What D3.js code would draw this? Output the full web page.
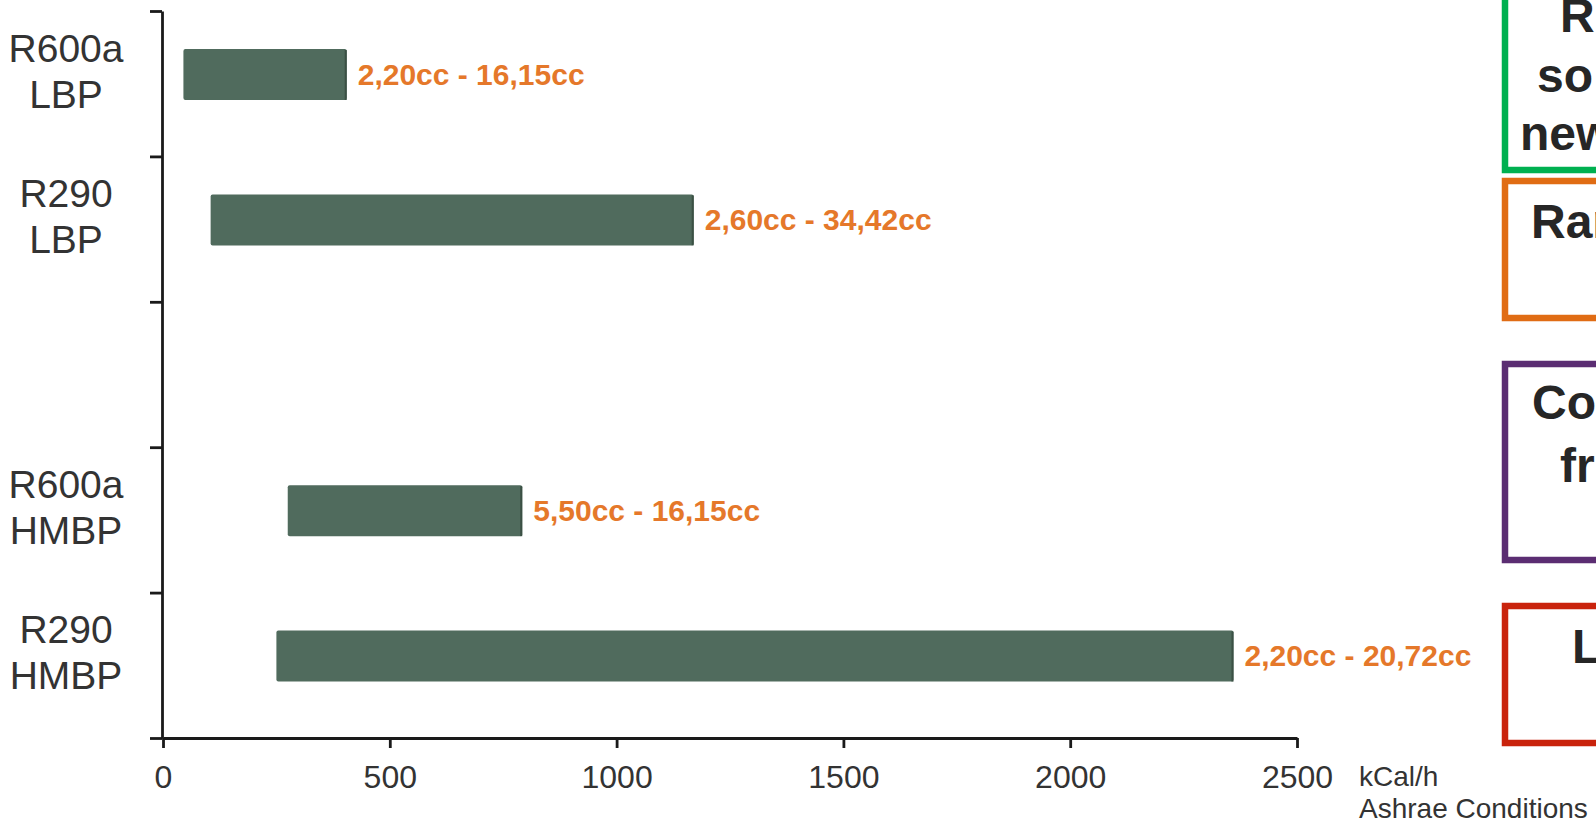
<html>
<head>
<script src="https://d3js.org/d3.v7.min.js"></script>
<style>
  body { margin: 0; background: #fff; }
  text { font-family: "Liberation Sans", Arial, Helvetica, sans-serif; }
</style>
</head>
<body>
<svg id="chart" width="1596" height="823"></svg>
<script>
// Data
const categories = ["R600a LBP", "R290 LBP", "R600a HMBP", "R290 HMBP"];
const refrigerants = ["R600a", "R290", "R600a", "R290"];
const platforms = ["LBP", "LBP", "HMBP", "HMBP"];
const capacityMin = [45, 105, 275, 250];      // kCal/h
const capacityMax = [405, 1170, 792, 2360];   // kCal/h
const displacements = ["2,20cc - 16,15cc", "2,60cc - 34,42cc", "5,50cc - 16,15cc", "2,20cc - 20,72cc"];
const slots = ["R600a LBP", "R290 LBP", "gap", "R600a HMBP", "R290 HMBP"];
const xTicks = [0, 500, 1000, 1500, 2000, 2500];
const unitLines = ["kCal/h", "Ashrae Conditions"];

// side boxes (partly cut off at the right edge)
const boxColors = ["#00b050", "#e06c14", "#5b2d72", "#c9230c"];
const boxTexts = [["R", "so", "new"], ["Ran"], ["Co", "fr"], ["L"]];

const svg = d3.select("#chart");
svg.append("rect").attr("width", 1596).attr("height", 823).attr("fill", "#fff");

// Scales
const x = d3.scaleLinear().domain([0, 2500]).range([163, 1297]);
const y = d3.scaleBand().domain(slots).range([11, 738]).padding(0);
const yEdge = d3.scaleLinear().domain([0, slots.length]).range([11, 738]);

const barH = 51, barOff = 38;

// Y axis: ticks on band edges
const yAxis = svg.append("g")
  .attr("transform", "translate(162,0)")
  .call(d3.axisLeft(yEdge).tickValues(d3.range(slots.length + 1)).tickSize(12).tickSizeOuter(0).tickFormat(""));
yAxis.selectAll("path, line").attr("stroke", "#1a1a1a").attr("stroke-width", 2.8);

// X axis
const xAxis = svg.append("g")
  .attr("transform", "translate(0,738)")
  .call(d3.axisBottom(x).tickValues(xTicks).tickSize(10).tickPadding(17).tickSizeOuter(0).tickFormat(d3.format("d")));
xAxis.selectAll("path, line").attr("stroke", "#1a1a1a").attr("stroke-width", 2.8);
xAxis.selectAll("text")
  .attr("font-size", 32).attr("fill", "#333")
  .style("font-family", "'Liberation Sans', Arial, sans-serif");

// unit note
svg.append("g").selectAll("text")
  .data(unitLines).enter()
  .append("text")
  .attr("x", 1359)
  .attr("y", (d, i) => 786 + i * 32)
  .attr("font-size", 28)
  .attr("fill", "#333")
  .text(d => d);

const rows = categories.map((c, i) => ({
  cat: c, ref: refrigerants[i], plat: platforms[i],
  lo: capacityMin[i], hi: capacityMax[i], label: displacements[i]
}));

// Bars
const bars = svg.append("g");
bars.selectAll("rect.bar")
  .data(rows).enter()
  .append("rect")
  .attr("class", "bar")
  .attr("x", d => x(d.lo))
  .attr("y", d => y(d.cat) + barOff)
  .attr("width", d => x(d.hi) - x(d.lo))
  .attr("height", barH)
  .attr("rx", 2)
  .attr("fill", "#506b5d");

// darker right edge
bars.selectAll("rect.edge")
  .data(rows).enter()
  .append("rect")
  .attr("class", "edge")
  .attr("x", d => x(d.hi) - 2)
  .attr("y", d => y(d.cat) + barOff + 1)
  .attr("width", 2)
  .attr("height", barH - 1)
  .attr("fill", "#3b5044");

// Value labels
svg.append("g").selectAll("text")
  .data(rows).enter()
  .append("text")
  .attr("x", d => x(d.hi) + 11)
  .attr("y", d => y(d.cat) + barOff + barH / 2 + 10)
  .attr("font-size", 30)
  .attr("font-weight", "bold")
  .attr("fill", "#e5782a")
  .text(d => d.label);

// Row labels (two lines)
const rl = svg.append("g").selectAll("text")
  .data(rows).enter()
  .append("text")
  .attr("text-anchor", "middle")
  .attr("font-size", 39)
  .attr("fill", "#333");
rl.append("tspan")
  .attr("x", 66)
  .attr("y", d => y(d.cat) + barOff + barH / 2 - 3 - 10)
  .text(d => d.ref);
rl.append("tspan")
  .attr("x", 66)
  .attr("y", d => y(d.cat) + barOff + barH / 2 - 3 + 36)
  .text(d => d.plat);

// Side boxes
const boxY = [[-30, 170], [181, 318], [364, 560], [606, 743]];
svg.append("g").selectAll("rect")
  .data(boxColors).enter()
  .append("rect")
  .attr("x", 1505)
  .attr("y", (d, i) => boxY[i][0])
  .attr("width", 200)
  .attr("height", (d, i) => boxY[i][1] - boxY[i][0])
  .attr("fill", "none")
  .attr("stroke", d => d)
  .attr("stroke-width", 6.5);

const boxTextPos = [
  [[1560, 32], [1537, 92], [1520, 150]],
  [[1531, 238]],
  [[1532, 419], [1560, 482]],
  [[1572, 663]]
];
boxTexts.forEach((lines, i) => {
  svg.append("g").selectAll("text")
    .data(lines).enter()
    .append("text")
    .attr("x", (d, j) => boxTextPos[i][j][0])
    .attr("y", (d, j) => boxTextPos[i][j][1])
    .attr("font-size", 48)
    .attr("font-weight", "bold")
    .attr("fill", "#262626")
    .text(d => d);
});
</script>
</body>
</html>
